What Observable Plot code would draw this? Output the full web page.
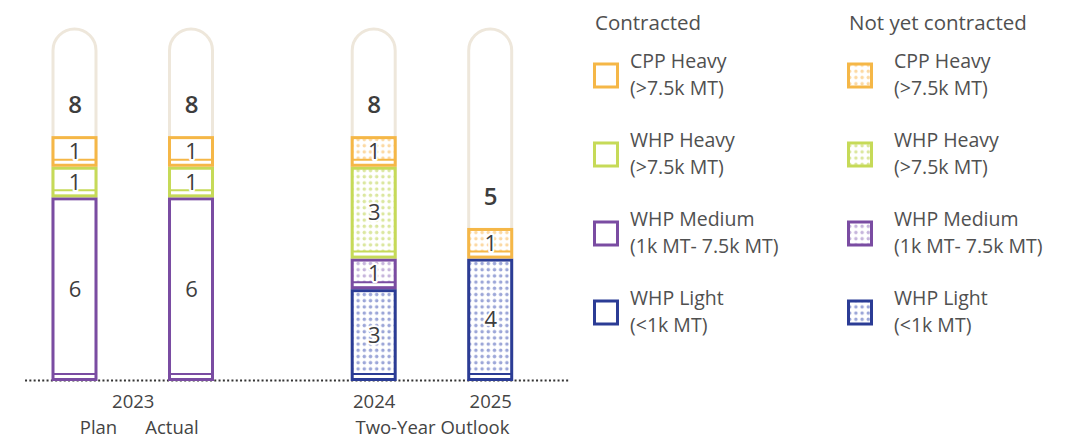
<!DOCTYPE html>
<html>
<head>
<meta charset="utf-8">
<script src="https://cdn.jsdelivr.net/npm/d3@7"></script>
<script src="https://cdn.jsdelivr.net/npm/@observablehq/plot@0.6"></script>
<style>
  html, body { margin: 0; padding: 0; background: #fff; }
  #wrap { position: relative; width: 1075px; height: 440px; font-family: "Open Sans", Lato, sans-serif; }
  #chart { position: absolute; left: 0; top: 0; }
  #legend { position: absolute; left: 580px; top: 0; }
</style>
</head>
<body>
<div id="wrap"><div id="chart"></div><div id="legend"></div></div>
<script>
// ---------- data ----------
const bars = ["Plan", "Actual", "2024", "2025"];
const barGroups = ["2023", "2023", "Two-Year Outlook", "Two-Year Outlook"];
const barStatus = ["Contracted", "Contracted", "Not yet contracted", "Not yet contracted"];
const groups = ["2023", "Two-Year Outlook"];
const statuses = ["Contracted", "Not yet contracted"];
// stacked bottom -> top
const categories = ["WHP Light", "WHP Medium", "WHP Heavy", "CPP Heavy"];
const categorySubtitles = ["(<1k MT)", "(1k MT- 7.5k MT)", "(>7.5k MT)", "(>7.5k MT)"];
const whpLight  = [0, 0, 3, 4];
const whpMedium = [6, 6, 1, 0];
const whpHeavy  = [1, 1, 3, 0];
const cppHeavy  = [1, 1, 1, 1];
const yMax = 11.5;

// ---------- styles ----------
const strokeColor = {"WHP Light": "#2b3c95", "WHP Medium": "#7a4ca2", "WHP Heavy": "#c6da58", "CPP Heavy": "#f5b747"};
const dotColor = {"WHP Light": "#9ca6d8", "WHP Medium": "#c6b5dc", "WHP Heavy": "#dbe79f", "CPP Heavy": "#fcd9a3"};
const patId = c => "dots-" + c.replace(/\s+/g, "-").toLowerCase();
const textColor = "#3d3d3d";

// patterns (shared by chart and legend)
const defs = d3.select("body").append("svg")
  .attr("width", 0).attr("height", 0)
  .style("position", "absolute").style("left", 0).style("top", 0)
  .append("defs");
categories.forEach(c => {
  const p = defs.append("pattern").attr("id", patId(c))
    .attr("patternUnits", "userSpaceOnUse").attr("width", 6.2).attr("height", 6.2);
  p.append("rect").attr("width", 6.2).attr("height", 6.2).attr("fill", "#fff");
  p.append("circle").attr("cx", 3.1).attr("cy", 3.1).attr("r", 1.75).attr("fill", dotColor[c]);
});

// ---------- tables ----------
const series = [whpLight, whpMedium, whpHeavy, cppHeavy];
const segments = [];
const barInfo = [];
bars.forEach((b, i) => {
  const group = barGroups[i];
  const slot = bars.filter((_, j) => barGroups[j] === group).indexOf(b);
  let cum = 0;
  categories.forEach((c, k) => {
    const v = series[k][i];
    if (v > 0) {
      segments.push({bar: b, group, slot, category: c, status: barStatus[i], value: v,
                     y1: cum, y2: cum + v, mid: cum + v / 2});
      cum += v;
    }
  });
  barInfo.push({bar: b, group, slot, total: cum, y1: 0, y2: yMax});
});
const groupInfo = groups.map(g => ({group: g, label: g, y: 0}));

const fillOf = d => d.status === "Contracted" ? "#fff" : `url(#${patId(d.category)})`;
const strokeOf = d => strokeColor[d.category];
const first = g => groups.indexOf(g) === 0;
const line1 = 26, line2 = 52;

const chart = Plot.plot({
  width: 580,
  height: 440,
  marginLeft: 18.05,
  marginRight: 33.35,
  marginTop: 29,
  marginBottom: 59,
  fx: {domain: groups, paddingInner: 0.2333, paddingOuter: 0, round: false, axis: null, label: null},
  x: {domain: [0, 1], paddingInner: 0.631, paddingOuter: 0.3, round: false, axis: null},
  y: {domain: [0, yMax], axis: null},
  color: {type: "identity"},
  style: {fontFamily: "'Open Sans', Lato, sans-serif", background: "#fff", overflow: "visible"},
  marks: [
    // dotted baseline
    Plot.ruleY(groupInfo, {filter: d => first(d.group), fx: "group", y: "y", dy: -1,
      insetLeft: 7, insetRight: -34.9, stroke: "#333", strokeWidth: 2, strokeDasharray: "2,2.3"}),
    Plot.ruleY(groupInfo, {filter: d => !first(d.group), fx: "group", y: "y", dy: -1,
      insetLeft: -34.9, insetRight: -23.35, stroke: "#333", strokeWidth: 2, strokeDasharray: "2,2.3"}),
    // capsule backdrop
    Plot.barY(barInfo, {fx: "group", x: "slot", y1: "y1", y2: "y2", rx: 21.5, insetBottom: 3,
      fill: "#fff", stroke: "#eee7db", strokeWidth: 3}),
    // segment fills
    Plot.barY(segments, {fx: "group", x: "slot", y1: "y1", y2: "y2", fill: fillOf,
      insetTop: 1.5, insetBottom: 1.5}),
    // white strip at segment bottom
    Plot.tickY(segments, {fx: "group", x: "slot", y: "y1", dy: -4.5, stroke: "#fff", strokeWidth: 5}),
    // inner line
    Plot.tickY(segments, {fx: "group", x: "slot", y: "y1", dy: -7.5, stroke: strokeOf, strokeWidth: 2}),
    // segment outlines
    Plot.barY(segments, {fx: "group", x: "slot", y1: "y1", y2: "y2", fill: "none", stroke: strokeOf,
      strokeWidth: 3, insetTop: 1.5, insetBottom: 1.5}),
    // segment values
    Plot.text(segments, {fx: "group", x: "slot", y: "mid", text: "value", fontSize: 22,
      fill: textColor, stroke: "#fff", strokeWidth: 4, paintOrder: "stroke"}),
    // totals
    Plot.text(barInfo, {fx: "group", x: "slot", y: "total", dy: -31, text: "total", fontSize: 24,
      fontWeight: 600, fill: textColor}),
    // group labels
    Plot.text(groupInfo, {filter: d => first(d.group), fx: "group", text: "label", frameAnchor: "bottom",
      dy: line1, fontSize: 18.5, fill: "#444"}),
    Plot.text(groupInfo, {filter: d => !first(d.group), fx: "group", text: "label", frameAnchor: "bottom",
      dy: line2, fontSize: 18.5, fill: "#444"}),
    // bar labels
    Plot.text(barInfo, {filter: d => !first(d.group), fx: "group", x: "slot", text: "bar", frameAnchor: "bottom",
      dy: line1, fontSize: 18.5, fill: "#444"}),
    Plot.text(barInfo, {filter: d => first(d.group) && d.slot === 0, fx: "group", x: "slot", text: "bar",
      frameAnchor: "bottom", dy: line2, dx: 23.5, fontSize: 18.5, fill: "#444"}),
    Plot.text(barInfo, {filter: d => first(d.group) && d.slot === 1, fx: "group", x: "slot", text: "bar",
      frameAnchor: "bottom", dy: line2, dx: -19.5, fontSize: 18.5, fill: "#444"})
  ]
});
document.getElementById("chart").appendChild(chart);

// ---------- legend ----------
const leg = d3.select("#legend").append("svg")
  .attr("width", 495).attr("height", 440)
  .style("font-family", "'Open Sans', Lato, sans-serif");
const colX = [13, 267];
const textX = [50, 314];
const legendOrder = categories.map((c, k) => ({c, sub: categorySubtitles[k]})).reverse();
statuses.forEach((s, si) => {
  leg.append("text").attr("x", colX[si] + 2).attr("y", 30)
    .attr("font-size", 20.5).attr("fill", "#505050").text(s);
  legendOrder.forEach((o, i) => {
    const y0 = 62.5 + i * 79;
    leg.append("rect").attr("x", colX[si] + 1.5).attr("y", y0 + 1.5)
      .attr("width", 23).attr("height", 23)
      .attr("fill", s === "Contracted" ? "#fff" : `url(#${patId(o.c)})`)
      .attr("stroke", strokeColor[o.c]).attr("stroke-width", 3);
    leg.append("text").attr("x", textX[si]).attr("y", y0 + 5)
      .attr("font-size", 19.5).attr("fill", "#505050").text(o.c);
    leg.append("text").attr("x", textX[si]).attr("y", y0 + 32)
      .attr("font-size", 19.5).attr("fill", "#505050").text(o.sub);
  });
});
</script>
</body>
</html>
